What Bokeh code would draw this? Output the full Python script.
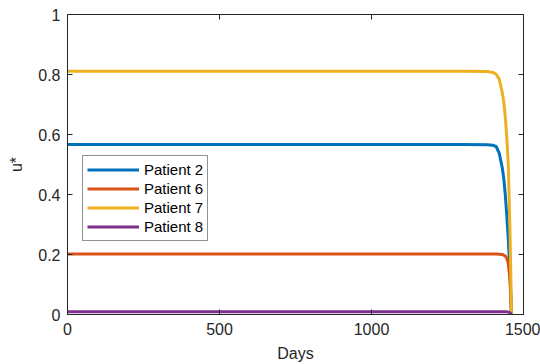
from bokeh.plotting import figure
from bokeh.models import Range1d, LinearAxis, Legend, LegendItem, FixedTicker, CustomJSTickFormatter
from bokeh.embed import file_html
from bokeh.resources import INLINE

# Data
days = [0, 1300, 1380, 1400, 1410, 1420, 1430, 1435, 1440, 1445, 1450, 1455, 1458, 1460]
patient2 = [0.567, 0.567, 0.566, 0.564, 0.560, 0.538, 0.49, 0.455, 0.40, 0.33, 0.25, 0.15, 0.08, 0.0]
patient6 = [0.202, 0.202, 0.202, 0.202, 0.202, 0.201, 0.200, 0.198, 0.195, 0.188, 0.17, 0.12, 0.06, 0.0]
patient7 = [0.811, 0.811, 0.810, 0.807, 0.801, 0.785, 0.74, 0.71, 0.66, 0.59, 0.50, 0.30, 0.15, 0.0]
patient8 = [0.009, 0.009, 0.009, 0.009, 0.009, 0.009, 0.009, 0.009, 0.009, 0.009, 0.008, 0.006, 0.003, 0.0]

names = ["Patient 2", "Patient 6", "Patient 7", "Patient 8"]
series = [patient2, patient6, patient7, patient8]
colors = ["#0072BD", "#D95319", "#EDB120", "#7E2F8E"]

x_ticks = [0, 500, 1000, 1500]
y_ticks = [0, 0.2, 0.4, 0.6, 0.8, 1]
y_tick_labels = {0: "0", 0.2: "0.2", 0.4: "0.4", 0.6: "0.6", 0.8: "0.8", 1: "1"}

AX = "#262626"
FONT = "Liberation Sans"

p = figure(width=540, height=364, output_backend="svg", toolbar_location=None,
           x_range=Range1d(0, 1500), y_range=Range1d(0, 1),
           min_border_left=67, min_border_right=17, min_border_top=14, min_border_bottom=50)
p.xgrid.visible = False
p.ygrid.visible = False
p.outline_line_color = AX
p.outline_line_width = 1

renderers = []
for ys, c in zip(series, colors):
    r = p.line(days, ys, line_color=c, line_width=3)
    renderers.append(r)

def style_axis(ax):
    ax.axis_line_color = AX
    ax.major_tick_line_color = AX
    ax.minor_tick_line_color = None
    ax.major_tick_in = 5
    ax.major_tick_out = 0
    ax.major_label_text_font = FONT
    ax.major_label_text_font_size = "16px"
    ax.major_label_text_color = AX
    ax.axis_label_text_font = FONT
    ax.axis_label_text_font_size = "16px"
    ax.axis_label_text_font_style = "normal"
    ax.axis_label_text_color = AX

style_axis(p.xaxis[0])
p.xaxis[0].ticker = FixedTicker(ticks=x_ticks)
p.xaxis[0].axis_label = "Days"
p.xaxis[0].major_label_standoff = 8
p.xaxis[0].axis_label_standoff = 7

style_axis(p.yaxis[0])
p.yaxis[0].ticker = FixedTicker(ticks=y_ticks)
p.yaxis[0].major_label_overrides = y_tick_labels
p.yaxis[0].axis_label = "u*"
p.yaxis[0].major_label_standoff = 7
p.yaxis[0].axis_label_standoff = 10

blank = CustomJSTickFormatter(code="return ''")
top = LinearAxis(ticker=FixedTicker(ticks=x_ticks), formatter=blank)
style_axis(top)
top.major_label_standoff = 0
p.add_layout(top, "above")
right = LinearAxis(ticker=FixedTicker(ticks=y_ticks), formatter=blank)
style_axis(right)
right.major_label_standoff = 0
p.add_layout(right, "right")

legend = Legend(items=[LegendItem(label=n, renderers=[r]) for n, r in zip(names, renderers)],
                location=(15, 73), glyph_width=52, glyph_height=19, label_height=19,
                label_standoff=5, spacing=0, padding=4, margin=0,
                label_text_font=FONT, label_text_font_size="15px", label_text_color="#000000",
                border_line_color=AX, border_line_width=1, background_fill_alpha=1)
p.add_layout(legend, "center")

open("out.html", "w").write(file_html(p, INLINE))
